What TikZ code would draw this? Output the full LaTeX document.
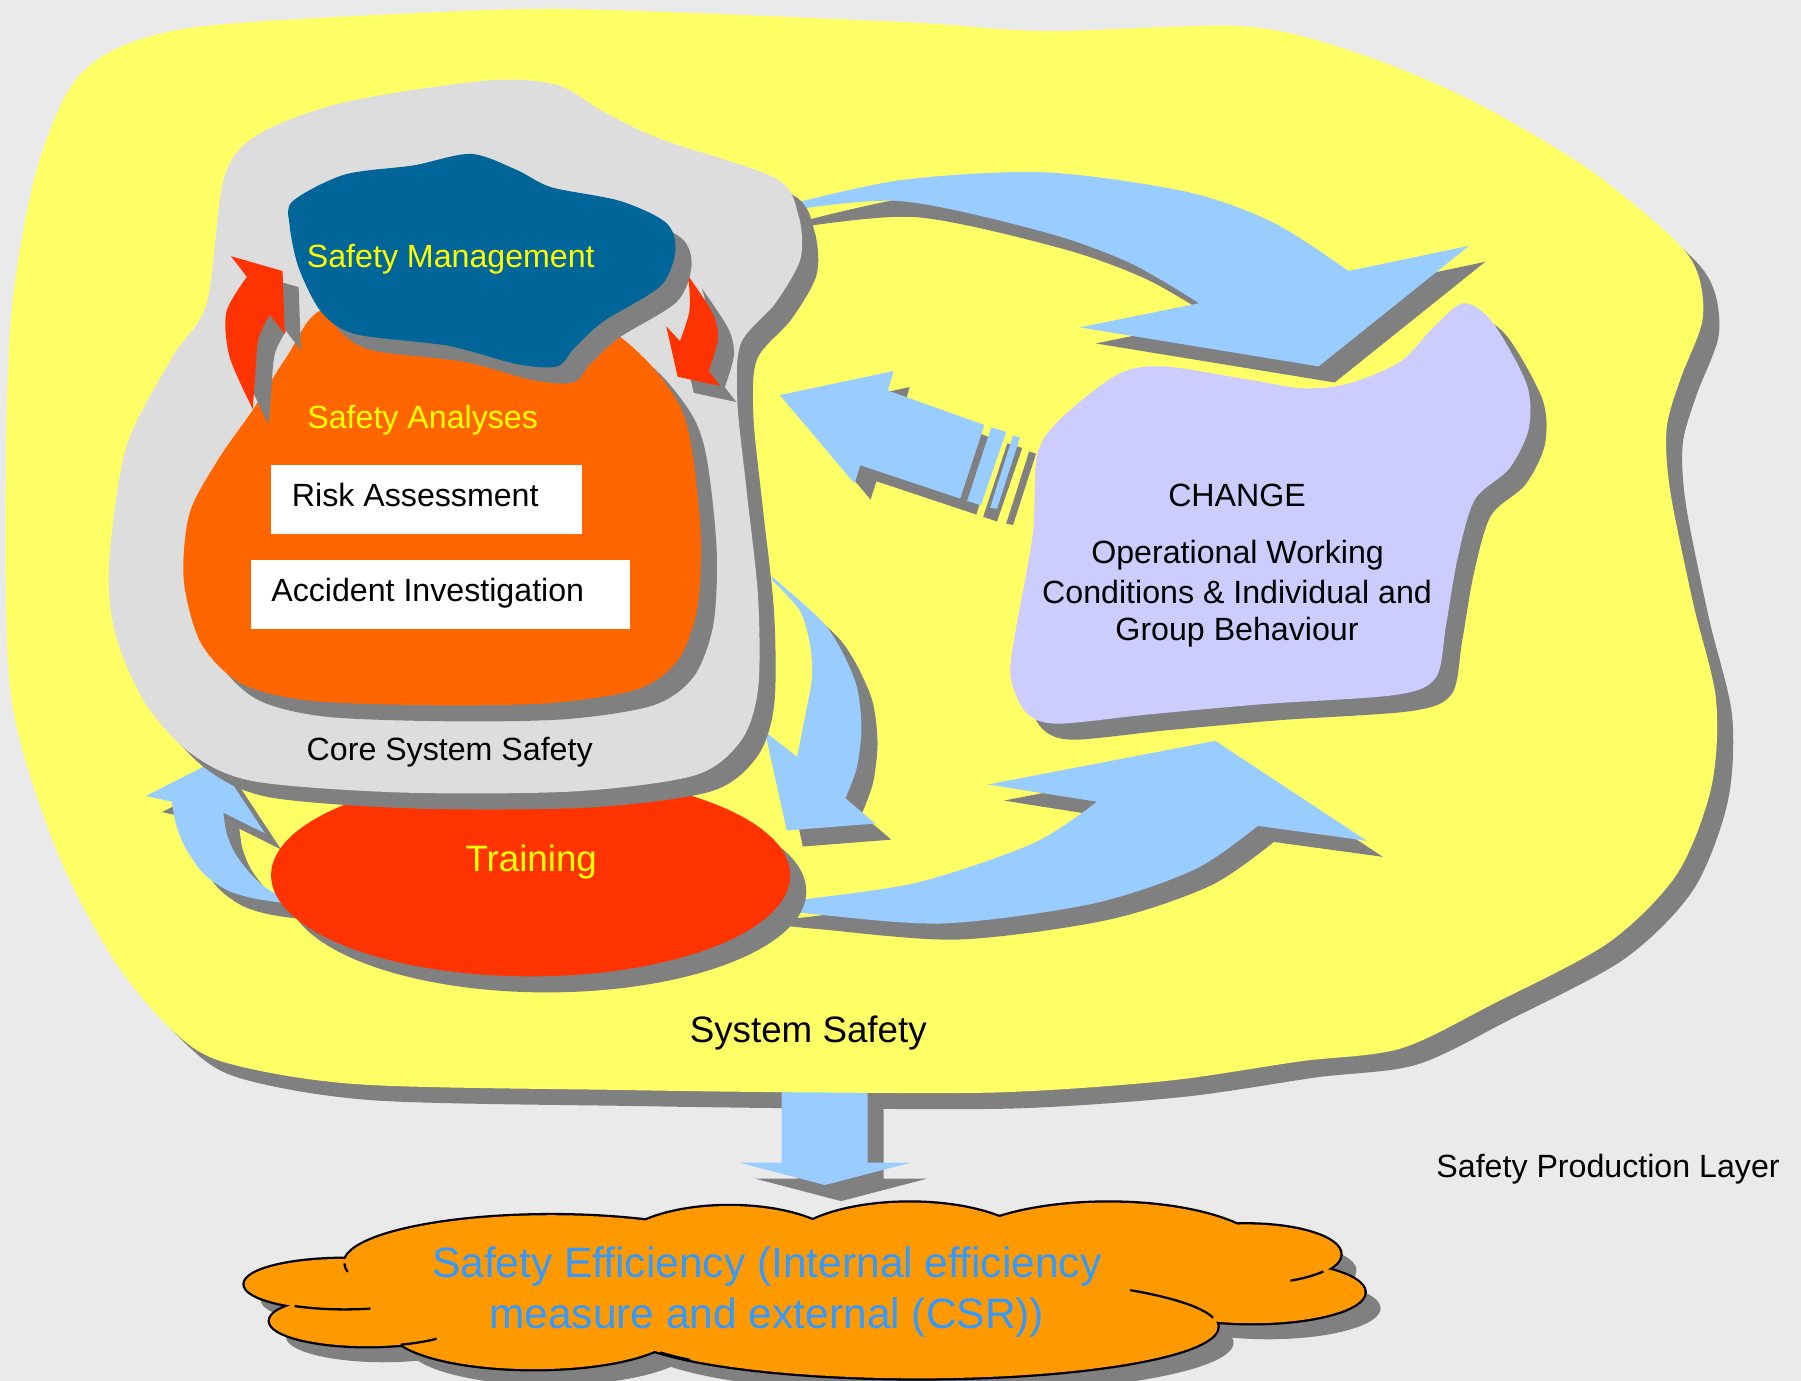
\documentclass[tikz,border=0pt]{standalone}
\usepackage{fontspec}
\setmainfont{Liberation Sans}
\definecolor{bgc}{HTML}{EAEAEA}
\definecolor{shc}{HTML}{808080}
\definecolor{yelc}{HTML}{FFFF66}
\definecolor{corec}{HTML}{DDDDDD}
\definecolor{orc}{HTML}{FF6600}
\definecolor{smc}{HTML}{006699}
\definecolor{redc}{HTML}{FF3300}
\definecolor{arrc}{HTML}{99CCFF}
\definecolor{chc}{HTML}{CCCCFF}
\definecolor{cloudc}{HTML}{FF9900}
\definecolor{cloudtxt}{HTML}{3399FF}
\definecolor{ytxt}{HTML}{FFFF00}
\newcommand\ShFill[2]{\fill[shc,shift={(14,14)}] #2; \fill[#1] #2;}
\newcommand\carc[6]{\draw[cloudline] plot[domain=#5:#6,samples=16] ({#1+#3*cos(\x)},{#2+#4*sin(\x)});}
\tikzset{
  lbl/.style={inner sep=0pt, anchor=base},
  fA/.style={font=\fontsize{28}{33}\selectfont},
  fB/.style={font=\fontsize{32}{38}\selectfont},
  fC/.style={font=\fontsize{37}{44}\selectfont},
  cloudline/.style={draw=black, line width=2pt},
  whitebox/.style={fill=white, inner sep=0pt}
}
\begin{document}
\begin{tikzpicture}[x=1pt,y=-1pt]
\useasboundingbox (0,0) rectangle (1568,1202.3);
\fill[bgc] (0,0) rectangle (1568,1202.3);

% yellow layer: shadow, down arrow, fill
\fill[shc,shift={(14,14)}] plot[smooth cycle] coordinates {(60,78) (100,43) (175,23) (350,12) (500,8) (783,19) (909,27) (1084,23) (1184,47) (1284,89) (1384,148) (1459,210) (1479,241) (1482,280) (1463,330) (1451,373) (1454,427) (1474,525) (1494,609) (1490,685) (1460,761) (1400,821) (1300,874) (1219,913) (1132,924) (1016,941) (871,951) (700,951) (544,949) (312,944) (196,925) (150,897) (100,837) (50,742) (10,609) (5,427) (10,272) (30,155)};
\ShFill{arrc}{(680.5,930) -- (755.4,930) -- (755.4,1012.2) -- (793.1,1012.2) -- (718.2,1031.7) -- (643.7,1012.2) -- (680.5,1012.2) -- cycle}
\fill[yelc] plot[smooth cycle] coordinates {(60,78) (100,43) (175,23) (350,12) (500,8) (783,19) (909,27) (1084,23) (1184,47) (1284,89) (1384,148) (1459,210) (1479,241) (1482,280) (1463,330) (1451,373) (1454,427) (1474,525) (1494,609) (1490,685) (1460,761) (1400,821) (1300,874) (1219,913) (1132,924) (1016,941) (871,951) (700,951) (544,949) (312,944) (196,925) (150,897) (100,837) (50,742) (10,609) (5,427) (10,272) (30,155)};

% CHANGE blob
\ShFill{chc}{plot[smooth cycle] coordinates {(1274,264) (1299,280) (1329,334) (1331,373) (1314,408) (1284,435) (1269,486) (1259,544) (1250,590) (1215,605) (1100,613) (1000,622) (920,630) (893,620) (880,590) (883,556) (899,466) (903,396) (923,365) (973,326) (1013,319) (1084,330) (1134,338) (1174,334) (1219,315) (1248,285)}}

% light blue arrows
\ShFill{arrc}{plot[smooth] coordinates {(675,181) (783,157) (909,150) (1033,167) (1109,194) (1174,236)} -- (1279,214) -- (1148,319) -- (940,285) -- (1044,264) -- plot[smooth] coordinates {(1044,264) (984,229) (909,202) (783,175) (675,185)} -- cycle}
\ShFill{arrc}{(679,344) -- (778,323) -- (773,340) -- (857,370) -- (836,434) -- (749,405) -- (744,421) -- cycle}
\ShFill{arrc}{(863,372) -- (876,376) -- (854,440) -- (842,436) -- cycle}
\ShFill{arrc}{(882,379) -- (888,381) -- (868,443) -- (862,442) -- cycle}
\ShFill{arrc}{plot[smooth] coordinates {(672,505) (696,531) (705,560) (707,589) (702,618) (694,659)} -- (666,637) -- (685,723) -- (762,717) -- (736,695) -- plot[smooth] coordinates {(736,695) (746,668) (750,633) (746,598) (734,569) (720,546) (702,528) (672,502)} -- cycle}
\ShFill{arrc}{plot[smooth] coordinates {(670,786) (700,783) (800,768) (900,734) (955,698)} -- (860,683) -- (1058,645) -- (1190,732) -- (1095,719) -- plot[smooth] coordinates {(1095,719) (1040,757) (950,787) (820,804) (700,795) (670,792)} -- cycle}
\ShFill{arrc}{plot[smooth] coordinates {(265,788) (249.6,786.4) (220.5,782.1) (197.3,774.8) (177,760.3) (162.5,740) (153.8,719.7) (149.5,697.9)} -- (127.1,693) -- (188.6,661.7) -- (230.7,725.5) -- (194.4,707.5) -- plot[smooth] coordinates {(194.4,707.5) (197.3,725.5) (204.6,742.9) (217.7,760.3) (232.2,773.4) (249.6,782.1) (265,784)} -- cycle}

% Training ellipse
\ShFill{redc}{(462,762) ellipse [x radius=226, y radius=88]}

% core system safety blob
\ShFill{corec}{plot[smooth cycle] coordinates {(425,70) (485,74) (525,97) (575,121) (675,155) (695,187) (697,225) (675,264) (645,299) (642,350) (650,427) (660,520) (660,600) (645,645) (605,675) (500,689) (350,690) (220,680) (165,655) (125,610) (100,550) (95,490) (110,389) (150,311) (180,264) (195,155) (225,117) (300,89)}}

% safety analyses blob
\ShFill{orc}{plot[smooth cycle] coordinates {(280,270) (350,272) (450,283) (520,283) (560,311) (590,350) (602,389) (610,466) (607,530) (590,575) (555,600) (480,612) (380,614) (270,610) (210,595) (175,560) (160,505) (165,447) (190,400) (220,357) (250,310)}}

% red curved arrows
\ShFill{redc}{plot[smooth] coordinates {(220,356) (200,311) (197,272) (215,241)} -- (201,223) -- (246,236) -- (248,291) -- (235,274) -- plot[smooth] coordinates {(235,274) (225,295) (222,330) (220,356)} -- cycle}
\ShFill{redc}{plot[smooth] coordinates {(597,237) (620,272) (625,295) (617,323)} -- (627,336) -- (590,328) -- (580,284) -- (592,297) -- plot[smooth] coordinates {(592,297) (600,272) (600,249) (597,237)} -- cycle}

% safety management blob
\ShFill{smc}{plot[smooth cycle] coordinates {(255,175) (300,152) (360,144) (410,134) (450,148) (480,163) (540,175) (580,194) (588,218) (575,249) (525,280) (500,303) (485,319) (450,317) (390,301) (310,291) (280,272) (260,233) (252,195)}}

% white boxes
\node[whitebox, minimum width=271pt, minimum height=59.5pt] (rab) at (371.4,434.8) {};
\node[whitebox, minimum width=330.4pt, minimum height=59.4pt] (aib) at (383.6,517.5) {};

% cloud
\def\lobes{300/1118/87/22, 320/1150/85/22, 480/1100/180/42, 635/1090/100/40, 792/1090/110/43, 965/1095/140/48, 1085/1092/82/26, 1090/1125/98/27, 800/1155/260/45, 465/1157/125/35}
\foreach \cx/\cy/\rx/\ry in \lobes {\fill[shc] (\cx+14,\cy+14) ellipse [x radius=\rx, y radius=\ry];}
\foreach \cx/\cy/\rx/\ry in \lobes {\draw[black, line width=4pt] (\cx,\cy) ellipse [x radius=\rx, y radius=\ry];}
\foreach \cx/\cy/\rx/\ry in \lobes {\fill[cloudc] (\cx,\cy) ellipse [x radius=\rx, y radius=\ry];}
\carc{300}{1118}{87}{22}{120}{75}
\carc{320}{1150}{85}{22}{70}{45}
\carc{480}{1100}{180}{42}{180}{170}
\carc{1085}{1092}{82}{26}{62}{35}
\carc{800}{1155}{260}{45}{315}{350}
\carc{800}{1155}{260}{45}{150}{140}

% texts
\node[lbl,fA,text=ytxt] (smt) at (392.5,233) {Safety Management};
\node[lbl,fA,text=ytxt] (sat) at (368,373) {Safety Analyses};
\node[lbl,fA,anchor=base west] (rat) at (254,441) {Risk Assessment};
\node[lbl,fA,anchor=base west] (ait) at (236,524) {Accident Investigation};
\node[lbl,fA] (cst) at (391.5,662) {Core System Safety};
\node[lbl,fB,text=ytxt] (trt) at (462.5,759) {Training};
\node[lbl,fB] (sst) at (703.7,908) {System Safety};
\node[lbl,fA] (spl) at (1400,1025) {Safety Production Layer};
\node[lbl,fA] (ch1) at (1077,441) {CHANGE};
\node[lbl,fA] (ch2) at (1077.5,491) {Operational Working};
\node[lbl,fA] (ch3) at (1077,525) {Conditions \& Individual and};
\node[lbl,fA] (ch4) at (1077,558) {Group Behaviour};
\node[lbl,fC,text=cloudtxt] (ce1) at (667.5,1112) {Safety Efficiency (Internal efficiency};
\node[lbl,fC,text=cloudtxt] (ce2) at (667.5,1157) {measure and external (CSR))};
\end{tikzpicture}
\end{document}
